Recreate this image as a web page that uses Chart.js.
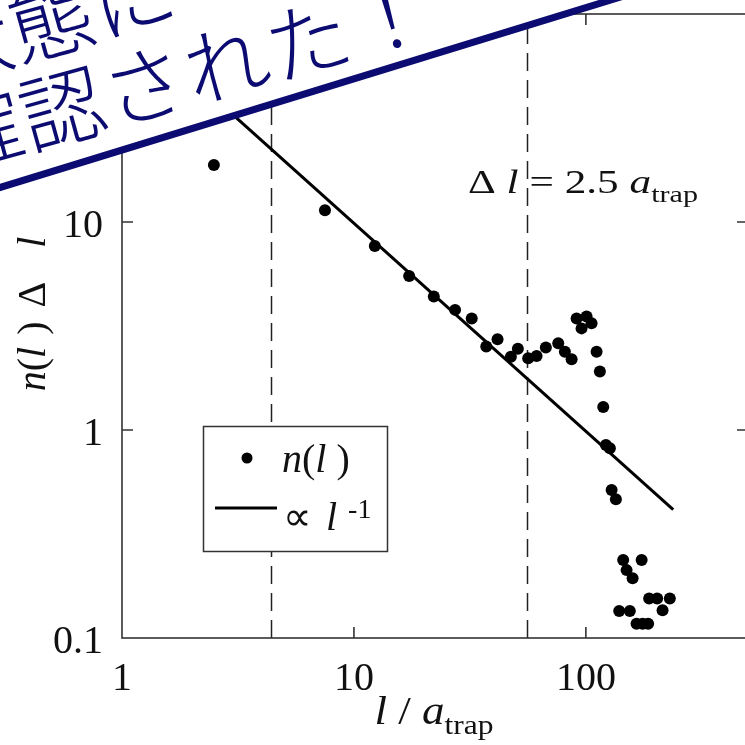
<!DOCTYPE html>
<html>
<head>
<meta charset="utf-8">
<script src="https://cdn.jsdelivr.net/npm/chart.js@4/dist/chart.umd.min.js"></script>
<style>
  html, body { margin: 0; padding: 0; background: #fff; overflow: hidden; width: 745px; height: 745px; }
  #wrap { position: absolute; left: 0; top: 0; width: 760px; height: 745px; }
</style>
</head>
<body>
<div id="wrap"><canvas id="c" width="760" height="745"></canvas></div>
<script>
// Loop length l / a_trap and the measured distribution n(l)Δl
const lengths = [2.49, 7.5, 12.3, 17.3, 22.1, 27.3, 32.2, 37.2, 41.6, 47.5, 50.9, 56.4, 61.3, 67.2,
  76.0, 81.2, 86.8, 91.2, 95.8, 100.7, 105.8, 111.2, 114.9, 118.8, 122.0, 126.9, 129.1, 134.7,
  139.2, 144.8, 149.8, 154.7, 159.0, 165.4, 173.9, 175.6, 185.5, 187.4, 202.9, 214.1, 230.1];
const counts = [18.8, 11.4, 7.67, 5.50, 4.38, 3.78, 3.44, 2.52, 2.73, 2.25, 2.46, 2.21, 2.27, 2.49,
  2.61, 2.38, 2.19, 3.44, 3.08, 3.51, 3.26, 2.38, 1.91, 1.29, 0.847, 0.817, 0.515, 0.464,
  0.135, 0.237, 0.212, 0.135, 0.194, 0.117, 0.237, 0.117, 0.117, 0.155, 0.155, 0.136, 0.155];

// Power-law guide ∝ l^-1 (end points)
const fitL = [2, 238];
const fitN = [49.3, 0.414];

// Vertical dashed markers (l / a_trap)
const markerL = [4.4, 56];

// Axis ranges and tick labels
const xRange = [1, 500];
const yRange = [0.1, 100];
const xTickVals = [1, 10, 100];
const xTickText = ['1', '10', '100'];
const yTickVals = [0.1, 1, 10];
const yTickText = ['0.1', '1', '10'];

const SERIF = '"Liberation Serif", "Times New Roman", serif';
const INK = '#111';

function runs(ctx, items, x, y, opt) {
  opt = opt || {};
  let total = 0;
  const ws = items.map(it => {
    ctx.font = it.f;
    const w = ctx.measureText(it.t).width + (it.gap || 0);
    total += w;
    return w;
  });
  const sx = opt.width ? opt.width / total : 1;
  const align = opt.align || 'left';
  const start = align === 'center' ? x - total * sx / 2 : align === 'right' ? x - total * sx : x;
  ctx.save();
  ctx.translate(start, y);
  ctx.scale(sx, 1);
  ctx.textAlign = 'left';
  ctx.textBaseline = 'alphabetic';
  let cx = 0;
  items.forEach((it, i) => {
    ctx.font = it.f;
    ctx.fillText(it.t, cx, it.dy || 0);
    cx += ws[i];
  });
  ctx.restore();
}

const it40 = 'italic 40px ' + SERIF;
const up40 = '40px ' + SERIF;

const decorations = {
  id: 'decorations',
  beforeDatasetsDraw(chart) {
    const { ctx, chartArea: a, scales: { x } } = chart;
    ctx.save();
    ctx.strokeStyle = '#222';
    ctx.lineWidth = 1.5;
    ctx.setLineDash([18, 9]);
    markerL.forEach(v => {
      const px = Math.round(x.getPixelForValue(v)) + 0.5;
      ctx.beginPath();
      ctx.moveTo(px, a.bottom);
      ctx.lineTo(px, a.top);
      ctx.stroke();
    });
    ctx.restore();
  },
  afterDraw(chart) {
    const { ctx, chartArea: a, scales: { x, y } } = chart;
    ctx.save();
    // frame
    ctx.strokeStyle = '#333';
    ctx.lineWidth = 1.6;
    ctx.strokeRect(a.left, a.top, a.right - a.left, a.bottom - a.top);
    // inward ticks
    const tl = 11;
    ctx.beginPath();
    xTickVals.forEach(v => {
      const px = x.getPixelForValue(v);
      if (px <= a.left + 1) return;
      ctx.moveTo(px, a.bottom); ctx.lineTo(px, a.bottom - tl);
      ctx.moveTo(px, a.top); ctx.lineTo(px, a.top + tl);
    });
    yTickVals.forEach(v => {
      const py = y.getPixelForValue(v);
      if (py >= a.bottom - 1) return;
      ctx.moveTo(a.left, py); ctx.lineTo(a.left + tl, py);
      ctx.moveTo(a.right, py); ctx.lineTo(a.right - tl, py);
    });
    ctx.stroke();

    // tick labels
    ctx.fillStyle = INK;
    ctx.font = up40;
    ctx.textBaseline = 'alphabetic';
    ctx.textAlign = 'center';
    xTickVals.forEach((v, i) => ctx.fillText(xTickText[i], x.getPixelForValue(v), a.bottom + 52));
    ctx.textAlign = 'right';
    yTickVals.forEach((v, i) => ctx.fillText(yTickText[i], a.left - 19, y.getPixelForValue(v) + 14.5));

    // x title: l / a_trap
    runs(ctx, [
      { t: 'l', f: it40 },
      { t: ' / ', f: up40 },
      { t: 'a', f: it40 },
      { t: 'trap', f: '28px ' + SERIF, dy: 10 }
    ], 434, 724, { align: 'center', width: 119 });

    // y title: n(l) Δ l
    ctx.save();
    ctx.translate(45, 314);
    ctx.rotate(-Math.PI / 2);
    runs(ctx, [
      { t: 'n', f: it40 },
      { t: '(', f: up40 },
      { t: 'l', f: it40, gap: 12 },
      { t: ')', f: up40, gap: 14 },
      { t: 'Δ', f: up40, gap: 34 },
      { t: 'l', f: it40 }
    ], 0, 0, { align: 'center' });
    ctx.restore();

    // annotation Δl = 2.5 a_trap
    runs(ctx, [
      { t: 'Δ ', f: '33px ' + SERIF },
      { t: 'l', f: 'italic 33px ' + SERIF },
      { t: ' = ', f: '33px ' + SERIF },
      { t: '2.5 ', f: '33px ' + SERIF },
      { t: 'a', f: 'italic 33px ' + SERIF },
      { t: 'trap', f: '23px ' + SERIF, dy: 9 }
    ], 468, 193, { width: 230 });

    // legend
    ctx.fillStyle = '#fff';
    ctx.fillRect(203, 426, 185, 126);
    ctx.strokeStyle = '#333';
    ctx.lineWidth = 1.5;
    ctx.strokeRect(203.5, 426.5, 184, 125);
    ctx.fillStyle = '#000';
    ctx.beginPath();
    ctx.arc(247, 458, 5.5, 0, Math.PI * 2);
    ctx.fill();
    ctx.strokeStyle = '#000';
    ctx.lineWidth = 3;
    ctx.beginPath();
    ctx.moveTo(215, 508); ctx.lineTo(277, 508);
    ctx.stroke();
    ctx.fillStyle = INK;
    runs(ctx, [
      { t: 'n', f: it40 },
      { t: '(', f: up40 },
      { t: 'l', f: it40 },
      { t: ' )', f: up40 }
    ], 282, 472);
    runs(ctx, [
      { t: '∝', f: up40, gap: 14 },
      { t: 'l', f: it40, gap: 11 },
      { t: '-1', f: '28px ' + SERIF, dy: -12 }
    ], 283, 530);

    // banner across the upper-left corner
    const by0 = 187.5, slope = -0.307;
    ctx.fillStyle = '#fff';
    ctx.beginPath();
    ctx.moveTo(-20, by0 - slope * 20);
    ctx.lineTo(700, by0 + slope * 700);
    ctx.lineTo(700, -20);
    ctx.lineTo(-20, -20);
    ctx.closePath();
    ctx.fill();
    ctx.strokeStyle = '#0b0b72';
    ctx.lineWidth = 7;
    ctx.beginPath();
    ctx.moveTo(-20, by0 - slope * 20);
    ctx.lineTo(700, by0 + slope * 700);
    ctx.stroke();

    ctx.save();
    ctx.translate(62, 108);
    ctx.rotate(-15.5 * Math.PI / 180);
    ctx.fillStyle = '#0b0b72';
    const F = 84, L = 1;
    ctx.font = '300 ' + F + 'px "Noto Sans CJK JP", sans-serif';
    ctx.letterSpacing = L + 'px';
    ctx.textAlign = 'left';
    ctx.textBaseline = 'middle';
    ctx.fillText('確認された！', -(F + L) - F / 2, 0);
    ctx.fillText('状態に', -(F + L) - F / 2 + 13, -88);
    ctx.restore();

    ctx.restore();
  }
};

const points = lengths.map((l, i) => ({ x: l, y: counts[i] }));
const fit = fitL.map((l, i) => ({ x: l, y: fitN[i] }));

new Chart(document.getElementById('c'), {
  type: 'scatter',
  data: {
    datasets: [
      {
        label: 'n(l)',
        data: points,
        pointRadius: 6,
        pointBackgroundColor: '#000',
        pointBorderWidth: 0,
        borderWidth: 0
      },
      {
        type: 'line',
        label: '∝ l^-1',
        data: fit,
        borderColor: '#000',
        borderWidth: 3,
        pointRadius: 0,
        fill: false,
        tension: 0
      }
    ]
  },
  options: {
    responsive: false,
    animation: false,
    events: [],
    layout: { padding: { left: 122, top: 14, right: 12, bottom: 107 } },
    plugins: { legend: { display: false }, tooltip: { enabled: false } },
    scales: {
      x: { type: 'logarithmic', min: xRange[0], max: xRange[1], display: false },
      y: { type: 'logarithmic', min: yRange[0], max: yRange[1], display: false }
    }
  },
  plugins: [decorations]
});
</script>
</body>
</html>
